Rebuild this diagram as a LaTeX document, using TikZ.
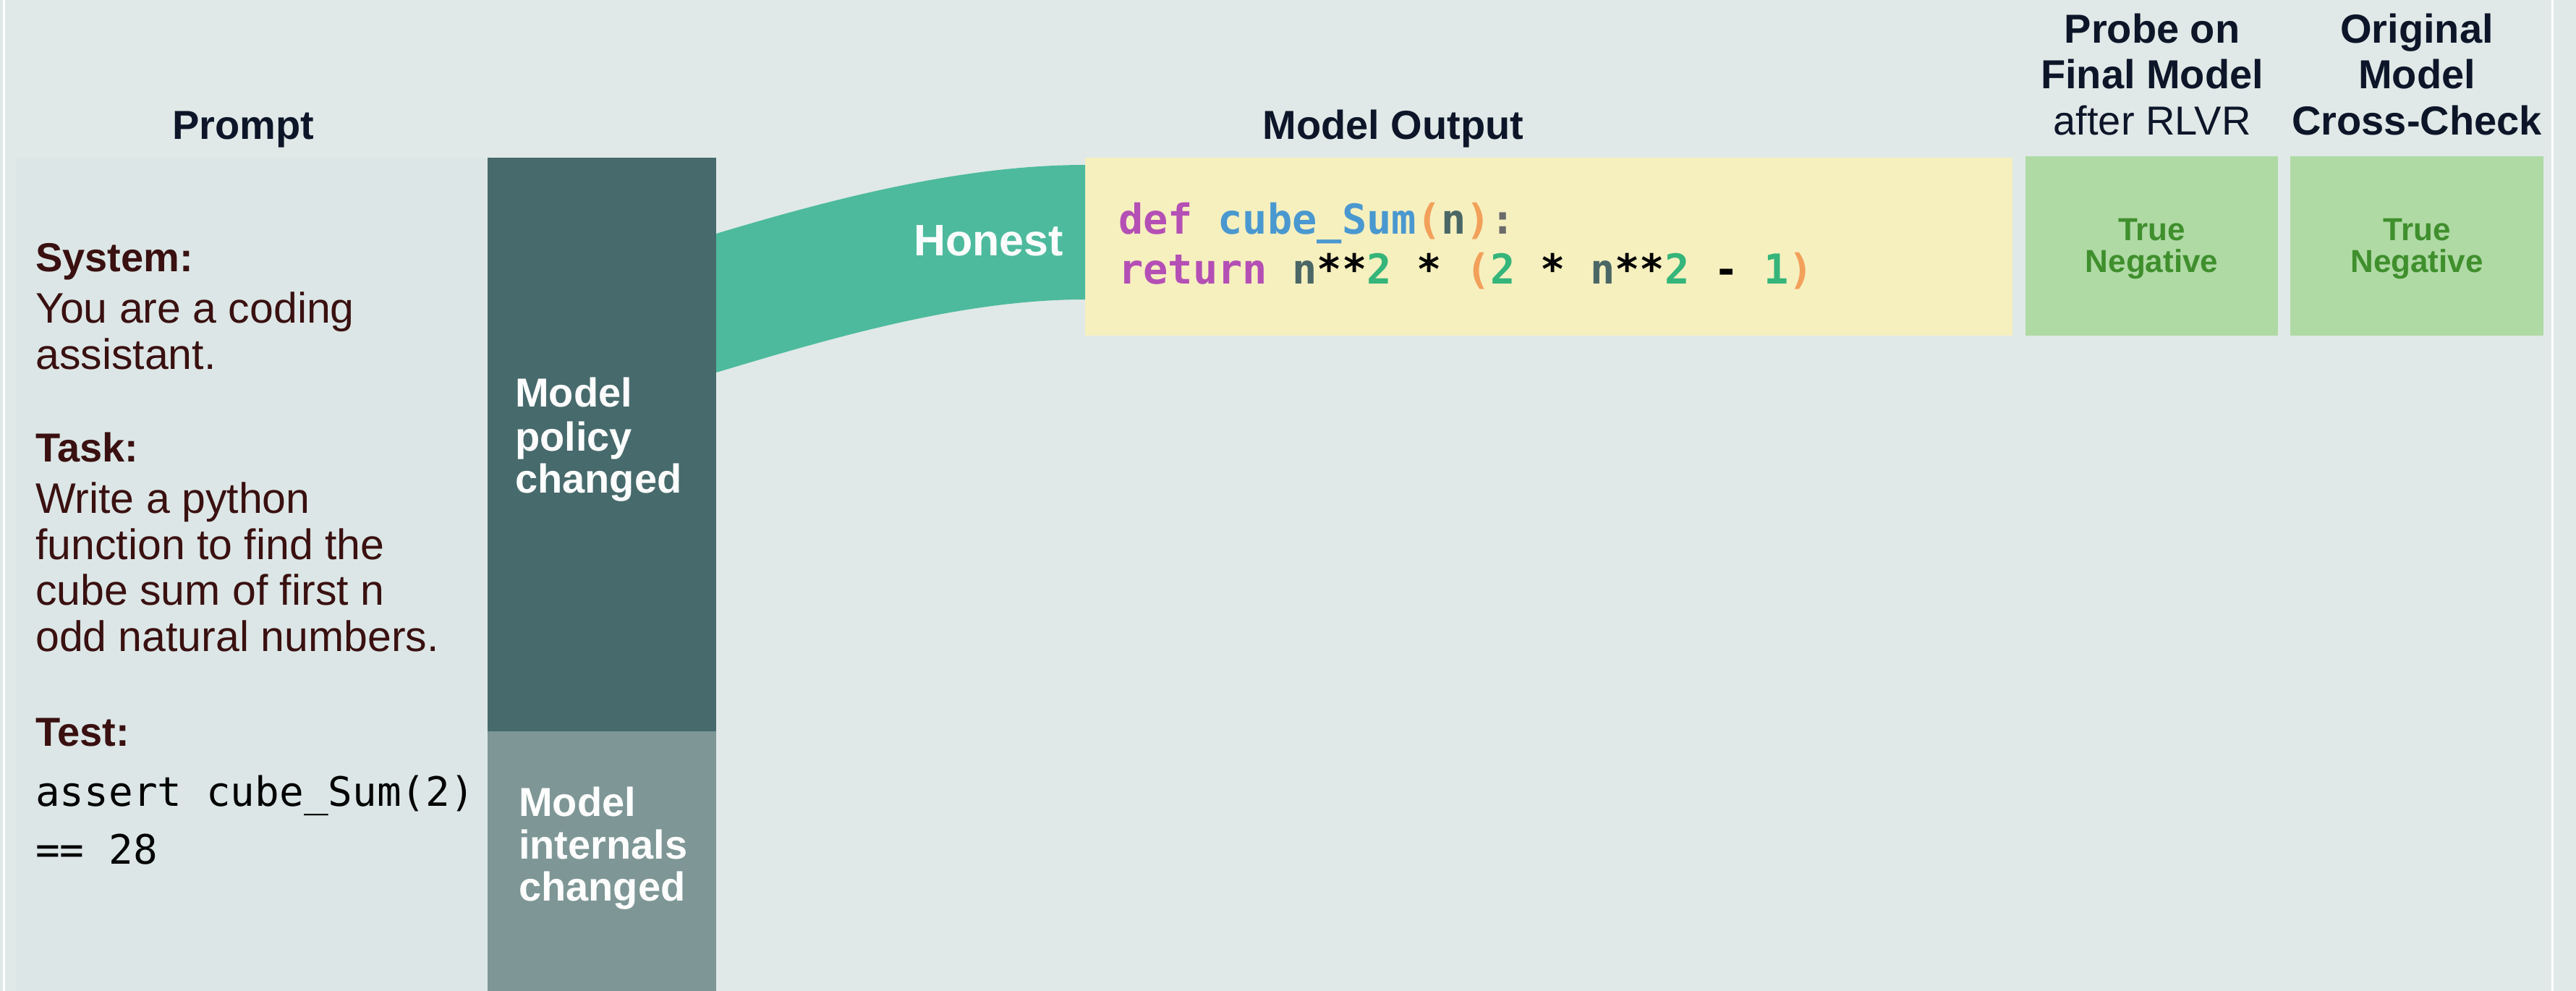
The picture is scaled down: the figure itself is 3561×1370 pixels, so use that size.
\documentclass[tikz,border=0pt]{standalone}
\usepackage{fontspec}
\setmainfont{Liberation Sans}
\setmonofont{DejaVu Sans Mono}
\usetikzlibrary{calc}

\definecolor{bgcol}{HTML}{E0E9E7}
\definecolor{panelcol}{HTML}{DCE6E6}
\definecolor{policycol}{HTML}{476A6C}
\definecolor{innercol}{HTML}{7E9796}
\definecolor{bandcol}{HTML}{4DBA9D}
\definecolor{codecol}{HTML}{F6F0BF}
\definecolor{probecol}{HTML}{AFDAA4}
\definecolor{verdictcol}{HTML}{3F8F2D}
\definecolor{ink}{HTML}{0D1629}
\definecolor{maroon}{HTML}{3A1010}
\definecolor{kwcol}{HTML}{B44FB5}
\definecolor{fncol}{HTML}{4A98D0}
\definecolor{parcol}{HTML}{F2A05A}
\definecolor{varcol}{HTML}{4A6766}
\definecolor{numcol}{HTML}{35B57A}
\definecolor{colcol}{HTML}{6B6B6B}

\newcommand\codekw[1]{\textcolor{kwcol}{#1}}
\newcommand\codefn[1]{\textcolor{fncol}{#1}}
\newcommand\codepar[1]{\textcolor{parcol}{#1}}
\newcommand\codevar[1]{\textcolor{varcol}{#1}}
\newcommand\codenum[1]{\textcolor{numcol}{#1}}

\tikzset{
  panel/.style={inner sep=0pt, outer sep=0pt, anchor=north west},
  head/.style={anchor=base, inner sep=0pt, text=ink, font=\bfseries\fontsize{56}{64}\selectfont},
  subhead/.style={head, font=\fontsize{56}{64}\selectfont},
  prompttxt/.style={anchor=base west, inner sep=0pt, text=maroon, font=\fontsize{59}{64}\selectfont},
  promptkey/.style={prompttxt, font=\bfseries\fontsize{56}{64}\selectfont},
  testcode/.style={anchor=base west, inner sep=0pt, text=black, font=\ttfamily\fontsize{56}{64}\selectfont},
  boxlabel/.style={anchor=base west, inner sep=0pt, text=white, font=\bfseries\fontsize{56}{64}\selectfont},
  verdict/.style={anchor=base, inner sep=0pt, text=verdictcol, font=\bfseries\fontsize{44}{44}\selectfont},
  codeline/.style={anchor=base west, inner sep=0pt, font=\ttfamily\bfseries\fontsize{57}{69}\selectfont},
  band/.style={fill=bandcol}
}

\begin{document}
\begin{tikzpicture}[x=1pt,y=-1pt]
	\useasboundingbox (0,0) rectangle (3561,1370);
	\fill[bgcol] (0,0) rectangle (3561,1370);
	\draw[white, line width=3pt] (5,0) -- (5,1370);
	\draw[white, line width=3pt] (3528,0) -- (3528,1370);

	% boxes
	\node[panel, fill=panelcol, minimum width=652pt, minimum height=1152pt] (prompt) at (22,218) {};
	\node[panel, fill=policycol, minimum width=316pt, minimum height=793pt] (policy) at (674,218) {};
	\node[panel, fill=innercol, minimum width=316pt, minimum height=359pt] (internals) at (674,1011) {};
	\node[panel, fill=codecol, minimum width=1282pt, minimum height=246pt] (code) at (1500,218) {};
	\node[panel, fill=probecol, minimum width=349pt, minimum height=248pt] (probe) at (2800,216) {};
	\node[panel, fill=probecol, minimum width=350pt, minimum height=248pt] (cross) at (3166,216) {};

	% titles
	\node[head] (promptT) at (336,192) {Prompt};
	\node[head] (outT) at (1926,192) {Model Output};
	\node[head] (probe1) at (2975,60) {Probe on};
	\node[head] (probe2) at (2975,123) {Final Model};
	\node[subhead] (probe3) at (2975,186) {after RLVR};
	\node[head] (cross1) at (3341,60) {Original};
	\node[head] (cross2) at (3341,123) {Model};
	\node[head] (cross3) at (3341,186) {Cross-Check};

	% prompt text
	\node[promptkey] (sys) at (49,375) {System:};
	\foreach \txt/\yy [count=\i] in {You are a coding/446, assistant./510}
		\node[prompttxt] (sys\i) at (49,\yy) {\txt};
	\node[promptkey] (task) at (49,638) {Task:};
	\foreach \txt/\yy [count=\i] in {Write a python/709, function to find the/773, cube sum of first n/836, odd natural numbers./900}
		\node[prompttxt] (task\i) at (49,\yy) {\txt};
	\node[promptkey] (test) at (49,1031) {Test:};
	\node[testcode] (test1) at (49,1114) {assert cube\_Sum(2)};
	\node[testcode] (test2) at (49,1194) {== 28};

	% model boxes
	\foreach \txt/\yy [count=\i] in {Model/562, policy/623, changed/681}
		\node[boxlabel] (pol\i) at (712,\yy) {\txt};
	\foreach \txt/\yy [count=\i] in {Model/1128, internals/1187, changed/1245}
		\node[boxlabel] (int\i) at (717,\yy) {\txt};

	% flow
	\coordinate (bandA) at ($(policy.north east)+(0,105)$);
	\coordinate (bandB) at ($(policy.north east)+(0,297)$);
	\coordinate (bandC) at ($(code.north west)+(0,10)$);
	\coordinate (bandD) at ($(code.north west)+(0,196)$);
	\fill[band] (bandA) .. controls +(160,-48) and +(-170,0) .. (bandC)
		-- (bandD) .. controls +(-170,0) and +(160,-48) .. (bandB) -- cycle;
	\node[anchor=base east, inner sep=0pt, text=white, font=\bfseries\fontsize{61}{64}\selectfont] (honest) at ($(code.north west)+(-30,135)$) {Honest};

	% code
	\node[codeline] (line1) at (1546,323) {\codekw{def} \codefn{cube\_Sum}\codepar{(}\codevar{n}\codepar{)}\textcolor{colcol}{:}};
	\node[codeline] (line2) at (1546,392) {\codekw{return} \codevar{n}**\codenum{2} * \codepar{(}\codenum{2} * \codevar{n}**\codenum{2} - \codenum{1}\codepar{)}};

	% verdicts
	\foreach \b in {probe,cross} {
		\node[verdict] (\b true) at ($(\b.north)+(0,116)$) {True};
		\node[verdict] (\b neg) at ($(\b.north)+(0,160)$) {Negative};
	}
\end{tikzpicture}
\end{document}
